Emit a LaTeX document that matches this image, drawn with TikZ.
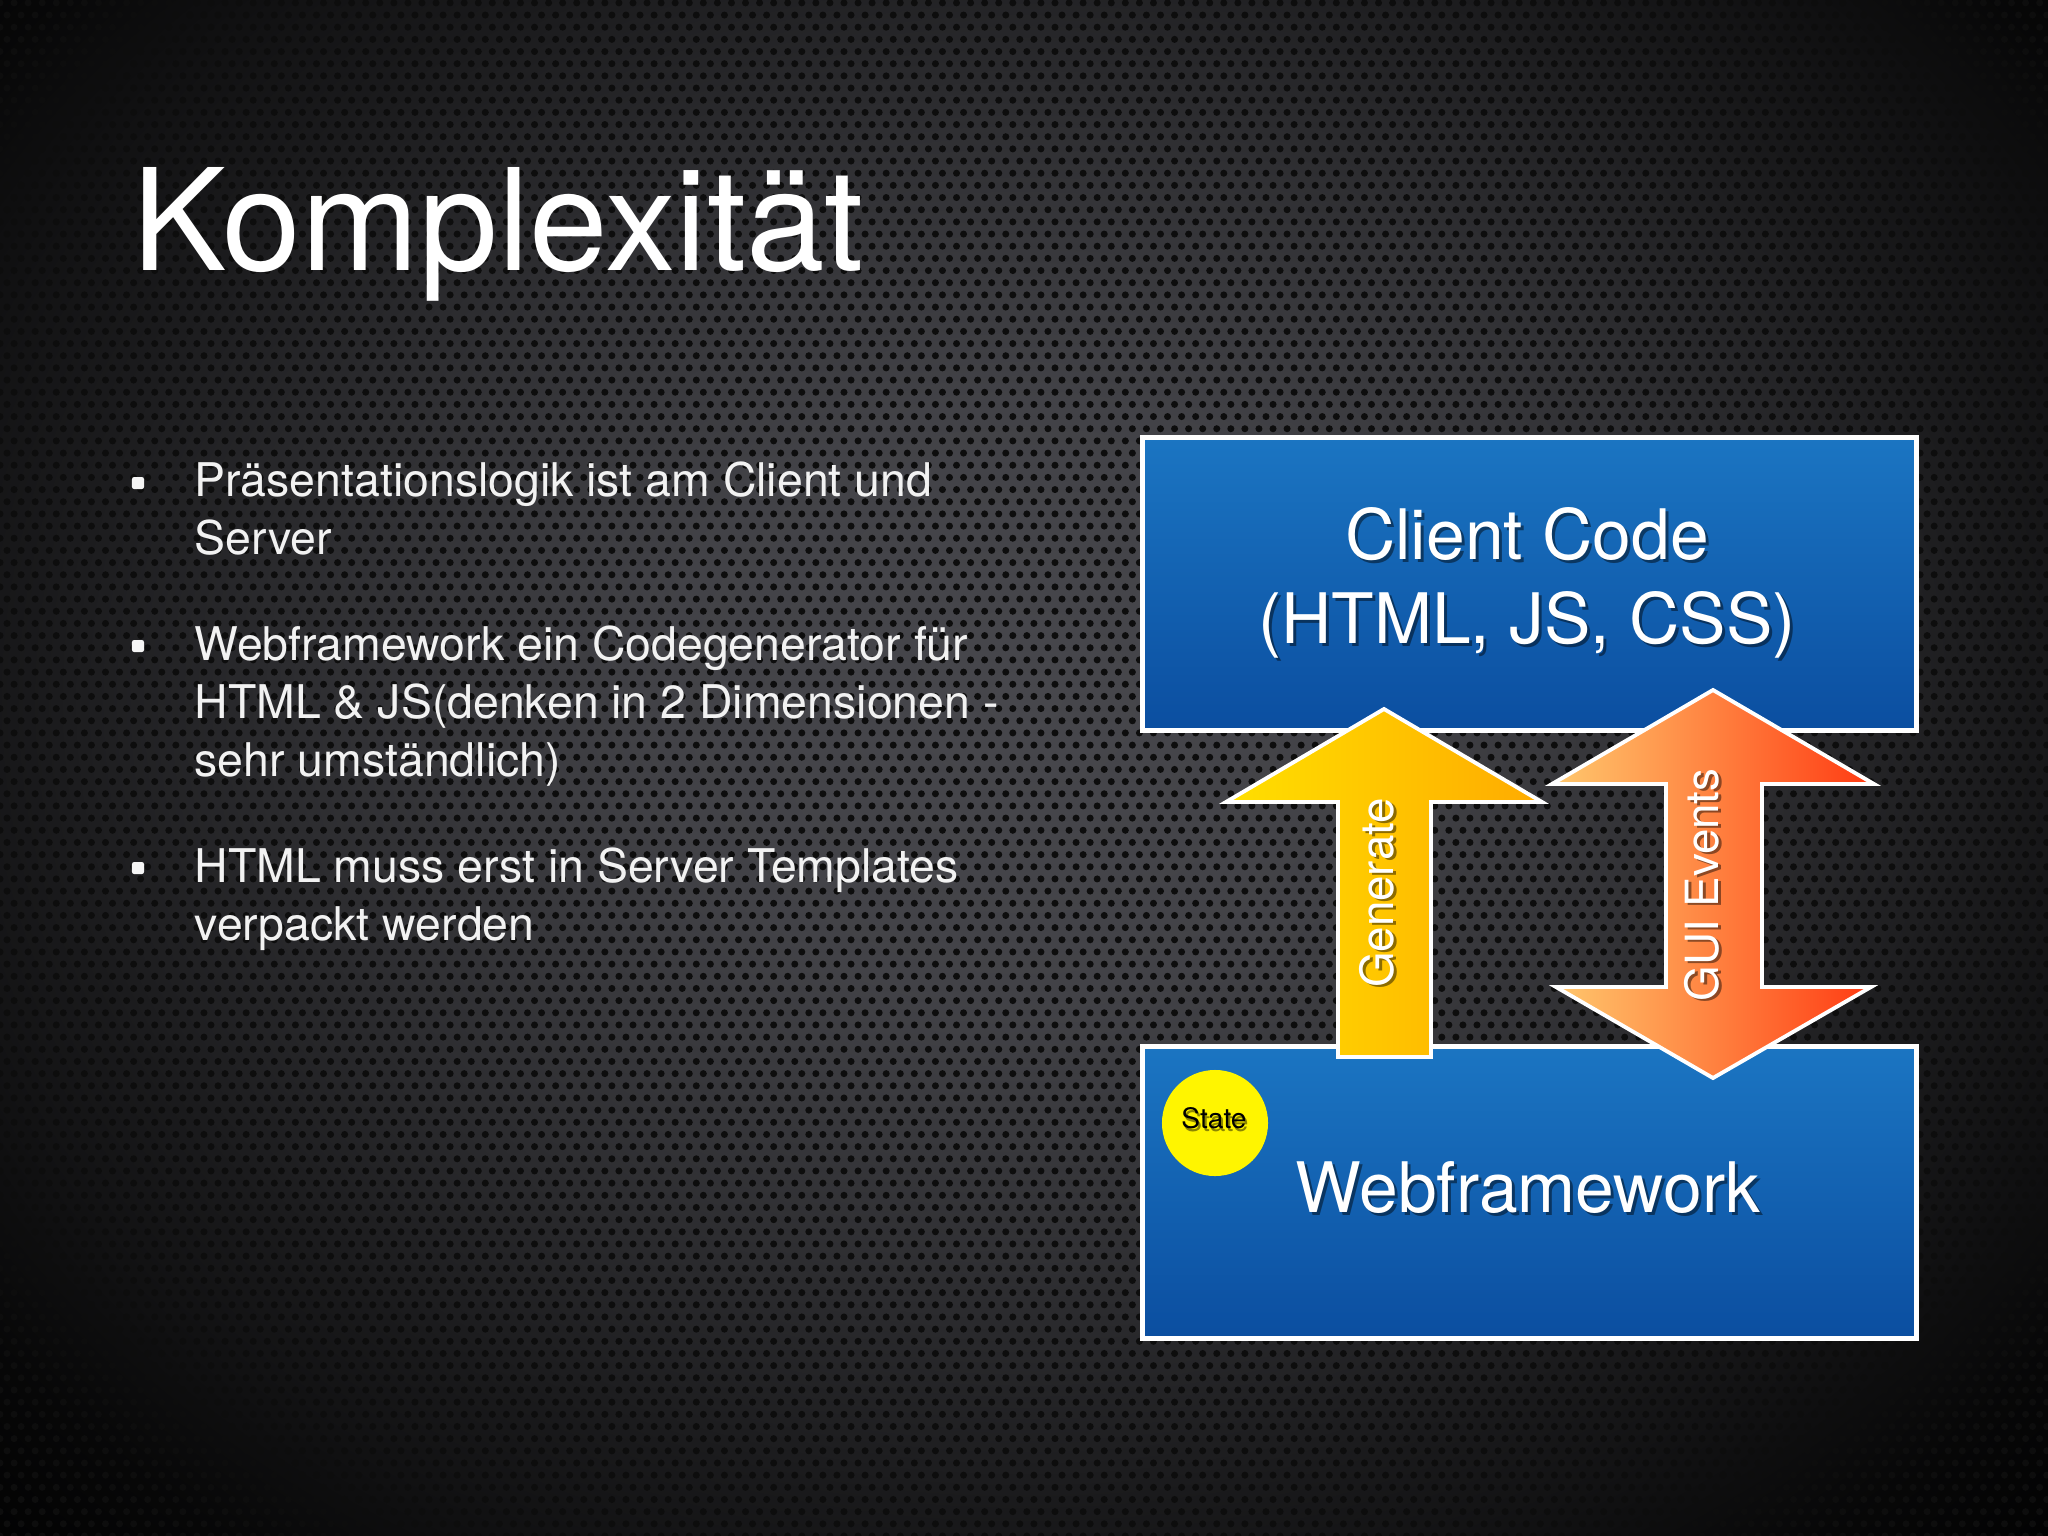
\documentclass[tikz,border=0pt]{standalone}
\usepackage{fontspec}
\setmainfont{TeX Gyre Heros}
\usetikzlibrary{patterns}
\definecolor{bgbase}{HTML}{47474C}
\definecolor{boxtop}{HTML}{1B75C2}
\definecolor{boxbot}{HTML}{0B4EA0}
\definecolor{genL}{HTML}{FFE000}
\definecolor{genR}{HTML}{FFAA00}
\definecolor{guiL}{HTML}{FFC96E}
\definecolor{guiR}{HTML}{FF3A12}
\definecolor{stateY}{HTML}{FFF500}
\definecolor{bullettext}{HTML}{F2F2F2}
\pgfdeclarepatternformonly{perf}{\pgfpoint{-1pt}{-1pt}}{\pgfpoint{3pt}{4.46pt}}{\pgfpoint{4pt}{6.92pt}}{%
  \pgfpathcircle{\pgfpoint{0pt}{0pt}}{1pt}%
  \pgfpathcircle{\pgfpoint{2pt}{3.46pt}}{1pt}%
  \pgfusepath{fill}}
\pgfdeclareradialshading{vignshade}{\pgfpoint{0bp}{0bp}}{%
  color(0bp)=(bgbase); color(6bp)=(bgbase!93!black); color(11bp)=(bgbase!68!black);
  color(16bp)=(bgbase!36!black); color(21bp)=(bgbase!10!black); color(25bp)=(black); color(50bp)=(black)}
\tikzset{
  titletxt/.style={anchor=base west, inner sep=0, text=white, font=\fontsize{40.2}{44}\selectfont},
  btxt/.style={anchor=base west, inner sep=0, text=bullettext, font=\fontsize{13.2}{16}\selectfont},
  bulletmark/.style={rectangle, fill=white!92!gray, minimum size=0.12cm, inner sep=0, rounded corners=0.6pt},
  panel/.style={rectangle, anchor=north west, draw=white, line width=1.4pt, top color=boxtop, bottom color=boxbot, inner sep=0},
  boxtxt/.style={anchor=base, inner sep=0, text=white, font=\fontsize{19.8}{24}\selectfont},
  arrtxt/.style={rotate=90, inner sep=0, text=white, font=\fontsize{13}{16}\selectfont},
  txtshadow/.style={text=black, opacity=0.45},
  blockarrow/.style={draw=white, line width=1.1pt, line join=miter},
}
\begin{document}
\begin{tikzpicture}[x=0.01cm,y=-0.01cm]
\useasboundingbox (0,0) rectangle (2048,1536);
% background with vignette and perforation
\begin{scope}
\clip (0,0) rectangle (2048,1536);
\shade[shading=vignshade] (-520,-560) rectangle (2568,1960);
\fill[pattern=perf, pattern color=black!95] (0,0) rectangle (2048,1536);
\end{scope}

% title
\node[titletxt] (title) at (132,270) {Komplexität};

% bullets
\node[bulletmark] (m1) at (138,483) {};
\node[bulletmark] (m2) at (138,646) {};
\node[bulletmark] (m3) at (138,868) {};
\node[btxt] (b1a) at (194,496) {Präsentationslogik ist am Client und};
\node[btxt] (b1b) at (194,554) {Server};
\node[btxt] (b2a) at (194,660) {Webframework ein Codegenerator für};
\node[btxt] (b2b) at (194,718) {HTML \& JS(denken in 2 Dimensionen -};
\node[btxt] (b2c) at (194,776) {sehr umständlich)};
\node[btxt] (b3a) at (194,882) {HTML muss erst in Server Templates};
\node[btxt] (b3b) at (194,940) {verpackt werden};

% panels
\node[panel, minimum width=7.74cm, minimum height=2.93cm] (client) at (1140,435) {};
\node[panel, minimum width=7.74cm, minimum height=2.92cm] (web) at (1140,1044) {};

% Generate arrow
\coordinate (gtip) at (1384,709);
\shadedraw[blockarrow, left color=genL, right color=genR]
  (gtip) -- (1542,802) -- (1431,802) -- (1431,1057) -- (1338,1057) -- (1338,802) -- (1226,802) -- cycle;

% GUI Events double arrow
\coordinate (etop) at (1713,690);
\coordinate (ebot) at (1713,1078);
\shadedraw[blockarrow, left color=guiL, right color=guiR]
  (etop) -- (1874,784) -- (1762,784) -- (1762,987) -- (1871,987) -- (ebot)
  -- (1556,987) -- (1666,987) -- (1666,784) -- (1552,784) -- cycle;

% state
\node[circle, fill=stateY, minimum size=1.06cm, inner sep=0] (state) at (1215,1123) {};
\node[txtshadow, inner sep=0, font=\fontsize{8}{9}\selectfont] (statesh) at (1216,1121) {State};
\node[inner sep=0, text=black, font=\fontsize{8}{9}\selectfont] (statetxt) at (1214,1118) {State};

% box texts (shadow then text)
\node[boxtxt, txtshadow] (cc1s) at (1530,562) {Client Code};
\node[boxtxt, txtshadow] (cc2s) at (1530,646) {(HTML, JS, CSS)};
\node[boxtxt, txtshadow] (wfs) at (1531,1215) {Webframework};
\node[boxtxt] (cc1) at (1527,559) {Client Code};
\node[boxtxt] (cc2) at (1527,643) {(HTML, JS, CSS)};
\node[boxtxt] (wf) at (1528,1212) {Webframework};

% arrow texts
\node[arrtxt, txtshadow] (gens) at (1380,895) {Generate};
\node[arrtxt, txtshadow] (guis) at (1705,887) {GUI Events};
\node[arrtxt] (gen) at (1377,893) {Generate};
\node[arrtxt] (gui) at (1702,885) {GUI Events};
\end{tikzpicture}
\end{document}
